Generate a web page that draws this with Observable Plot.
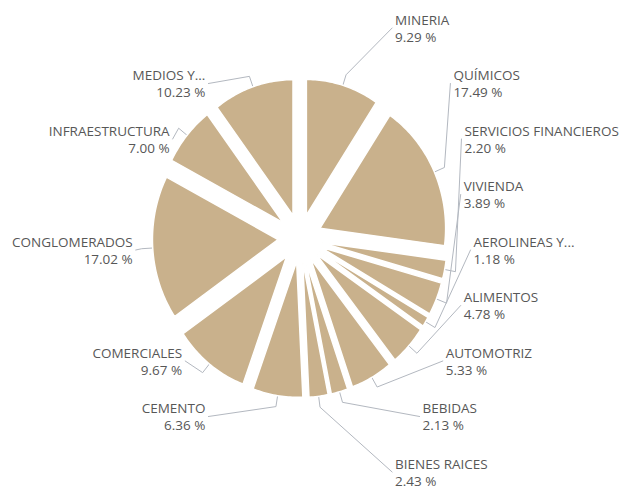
<!DOCTYPE html>
<html><head><meta charset="utf-8">
<script src="https://cdn.jsdelivr.net/npm/d3@7"></script>
<script src="https://cdn.jsdelivr.net/npm/@observablehq/plot@0.6"></script>
<style>body{margin:0;background:#fff} #chart{width:622px;height:487px}</style>
</head><body><div id="chart"></div>
<script>
// ---- data ----
const sectors = ["MINERIA","QUÍMICOS","SERVICIOS FINANCIEROS","VIVIENDA","AEROLINEAS Y...","ALIMENTOS","AUTOMOTRIZ","BEBIDAS","BIENES RAICES","CEMENTO","COMERCIALES","CONGLOMERADOS","INFRAESTRUCTURA","MEDIOS Y..."];
const shares = [9.29,17.49,2.20,3.89,1.18,4.78,5.33,2.13,2.43,6.36,9.67,17.02,7.00,10.23];

// ---- layout ----
const W = 622, H = 487;
const cx = 299.5, cy = 237.5, rx = 125.6, ry = 135.8, explode = 0.175, elbow = 11;
const slotY0 = 249.5, slotStep = 55.5, slotMax = 4, naturalR = 180, labelShift = 14;
const sliceColor = "#c9b18c", textColor = "#575757", lineColor = "#b3b8c0";

const arcs = d3.pie().sort(null).value(d => d.value)(sectors.map((name, i) => ({name, value: shares[i]})));

const px = (u) => cx + rx * u;
const py = (v) => cy - ry * v;

// slice polygons
const slicePts = [];
arcs.forEach(a => {
  const m = (a.startAngle + a.endAngle) / 2;
  const ox = explode * Math.sin(m), oy = explode * Math.cos(m);
  const name = a.data.name;
  slicePts.push({name, x: px(ox), y: py(oy)});
  const n = Math.max(2, Math.ceil((a.endAngle - a.startAngle) / (Math.PI / 180)));
  for (let i = 0; i <= n; i++) {
    const t = a.startAngle + (a.endAngle - a.startAngle) * i / n;
    slicePts.push({name, x: px(ox + Math.sin(t)), y: py(oy + Math.cos(t))});
  }
  slicePts.push({name, x: px(ox), y: py(oy)});
});

// label slots
const labels = arcs.map(a => {
  const m = (a.startAngle + a.endAngle) / 2;
  const right = Math.sin(m) >= 0;
  const natY = cy - naturalR * Math.cos(m);
  const k = Math.max(-slotMax, Math.min(slotMax, Math.round((natY - slotY0) / slotStep)));
  return {name: a.data.name, value: a.data.value, m, right, k};
});
for (const side of [true, false]) {
  const L = labels.filter(d => d.right === side).sort((a, b) => side ? a.m - b.m : b.m - a.m);
  for (let i = 1; i < L.length; i++) L[i].k = Math.max(L[i].k, L[i - 1].k + 1);
  L[L.length - 1].k = Math.min(L[L.length - 1].k, slotMax);
  for (let i = L.length - 2; i >= 0; i--) L[i].k = Math.min(L[i].k, L[i + 1].k - 1);
}
labels.forEach(d => {
  const off = 159.5 - 9.8 * Math.pow(Math.abs(d.k), 1.5);
  const ox = explode * Math.sin(d.m), oy = explode * Math.cos(d.m);
  d.ax = px(ox + Math.sin(d.m)); d.ay = py(oy + Math.cos(d.m));
  d.bx = d.ax + elbow * Math.sin(d.m); d.by = d.ay - elbow * Math.cos(d.m);
  d.ty = slotY0 + d.k * slotStep;
  d.tx = d.right ? Math.max(cx + labelShift + off, d.bx + 9) : Math.min(cx + labelShift - off, d.bx - 9);
  d.label = `${d.name}\n${d.value.toFixed(2)} %`;
});

// leader lines
const leaderPts = [];
labels.forEach(d => {
  leaderPts.push({name: d.name, x: d.ax, y: d.ay});
  leaderPts.push({name: d.name, x: d.bx, y: d.by});
  leaderPts.push({name: d.name, x: d.tx + (d.right ? -3 : 3), y: d.ty});
});

const textOpts = {x: "tx", y: "ty", text: "label", lineAnchor: "middle", fontSize: 13.5, fontFamily: "Open Sans", fill: textColor, lineHeight: 1.26};

const chart = Plot.plot({
  width: W, height: H, margin: 0,
  x: {type: "linear", domain: [0, W], range: [0, W], axis: null},
  y: {type: "linear", domain: [0, H], range: [0, H], axis: null},
  style: {background: "white"},
  marks: [
    Plot.line(leaderPts, {x: "x", y: "y", z: "name", stroke: lineColor, strokeWidth: 1, curve: "linear"}),
    Plot.line(slicePts, {x: "x", y: "y", z: "name", fill: sliceColor, stroke: "white", strokeWidth: 1.5, curve: "linear"}),
    Plot.text(labels.filter(d => d.right), {...textOpts, textAnchor: "start"}),
    Plot.text(labels.filter(d => !d.right), {...textOpts, textAnchor: "end"})
  ]
});
document.getElementById("chart").appendChild(chart);
</script>
</body></html>
